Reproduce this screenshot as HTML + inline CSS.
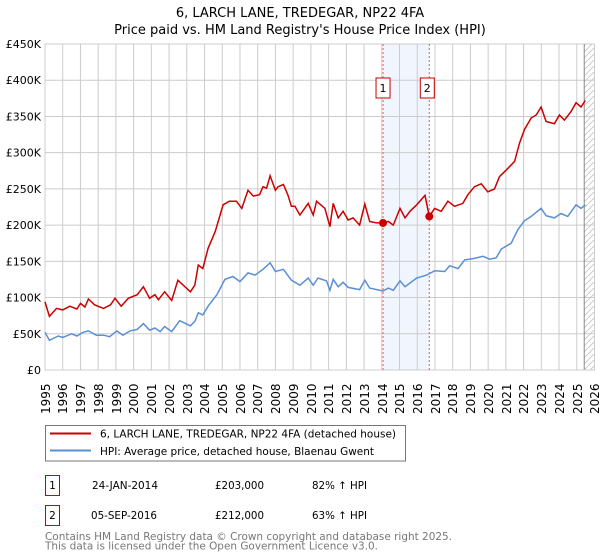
<!DOCTYPE html>
<html><head><meta charset="utf-8"><style>
body{margin:0;background:#fff;font-family:"DejaVu Sans","Liberation Sans",sans-serif;position:relative;width:600px;height:560px;overflow:hidden}
svg{position:absolute;left:0;top:0}
svg text{font-family:"DejaVu Sans","Liberation Sans",sans-serif}
.xl{position:absolute;top:383px;width:14px;height:31px;font-size:12px;line-height:14px;writing-mode:vertical-rl;transform:rotate(180deg);white-space:nowrap;color:#000;text-align:left}
</style></head><body>
<svg id="c" width="600" height="560" viewBox="0 0 600 560" xmlns="http://www.w3.org/2000/svg">
<defs><pattern id="hatch" width="6" height="6" patternUnits="userSpaceOnUse"><line x1="0" y1="6" x2="6" y2="0" stroke="#ccc" stroke-width="1"/></pattern></defs>
<text x="300" y="17" text-anchor="middle" font-size="13">6, LARCH LANE, TREDEGAR, NP22 4FA</text>
<text x="300" y="34" text-anchor="middle" font-size="13">Price paid vs. HM Land Registry's House Price Index (HPI)</text>
<g id="grid"></g><g id="marks"></g>
<g>
<rect x="45.5" y="425.5" width="360" height="35.5" fill="#fff" stroke="#777"/>
<line x1="50" y1="433.5" x2="91" y2="433.5" stroke="#cc0000" stroke-width="2"/>
<text x="100" y="437.5" font-size="10.5" textLength="296" lengthAdjust="spacingAndGlyphs">6, LARCH LANE, TREDEGAR, NP22 4FA (detached house)</text>
<line x1="50" y1="450.5" x2="91" y2="450.5" stroke="#5b8fd4" stroke-width="2"/>
<text x="100" y="455" font-size="10.5" textLength="274" lengthAdjust="spacingAndGlyphs">HPI: Average price, detached house, Blaenau Gwent</text>
</g>
<g font-size="10.5">
<rect x="45.5" y="475.5" width="14" height="20" fill="#fff" stroke="#cc0000"/><text x="52.5" y="489" text-anchor="middle">1</text>
<text x="92" y="489" textLength="66" lengthAdjust="spacingAndGlyphs">24-JAN-2014</text><text x="215" y="489" textLength="49" lengthAdjust="spacingAndGlyphs">£203,000</text><text x="312" y="489" textLength="55" lengthAdjust="spacingAndGlyphs">82% ↑ HPI</text>
<rect x="45.5" y="505.5" width="14" height="20" fill="#fff" stroke="#cc0000"/><text x="52.5" y="519" text-anchor="middle">2</text>
<text x="91" y="519" textLength="66" lengthAdjust="spacingAndGlyphs">05-SEP-2016</text><text x="215" y="519" textLength="49" lengthAdjust="spacingAndGlyphs">£212,000</text><text x="312" y="519" textLength="55" lengthAdjust="spacingAndGlyphs">63% ↑ HPI</text>
</g>
<g font-size="10.5" fill="#777">
<text x="45" y="540" textLength="407" lengthAdjust="spacingAndGlyphs">Contains HM Land Registry data © Crown copyright and database right 2025.</text>
<text x="45" y="549.5" textLength="333" lengthAdjust="spacingAndGlyphs">This data is licensed under the Open Government Licence v3.0.</text>
</g>
</svg>
<div id="xlabels"></div>
<script>
const yTicks=[0,50,100,150,200,250,300,350,400,450];
const yTickLabels=["£0","£50K","£100K","£150K","£200K","£250K","£300K","£350K","£400K","£450K"];
const xYears=[1995,1996,1997,1998,1999,2000,2001,2002,2003,2004,2005,2006,2007,2008,2009,2010,2011,2012,2013,2014,2015,2016,2017,2018,2019,2020,2021,2022,2023,2024,2025,2026];
const saleDates=[2014.07,2016.68];
const saleValues=[203,212];
const saleLabels=["1","2"];
const redT=[1995.0,1995.25,1995.65,1996.0,1996.4,1996.8,1997.0,1997.25,1997.45,1997.8,1998.3,1998.7,1998.95,1999.3,1999.7,2000.2,2000.55,2000.9,2001.2,2001.4,2001.75,2002.15,2002.5,2003.2,2003.45,2003.65,2003.9,2004.2,2004.6,2005.05,2005.4,2005.8,2006.1,2006.45,2006.75,2007.1,2007.3,2007.5,2007.7,2008.0,2008.15,2008.45,2008.7,2008.9,2009.1,2009.38,2009.85,2010.13,2010.32,2010.79,2011.07,2011.26,2011.54,2011.82,2012.1,2012.38,2012.75,2013.04,2013.32,2013.7,2014.07,2014.37,2014.65,2015.03,2015.31,2015.59,2015.97,2016.44,2016.68,2016.98,2017.35,2017.73,2018.1,2018.57,2018.86,2019.23,2019.61,2019.98,2020.36,2020.64,2021.02,2021.49,2021.77,2022.05,2022.43,2022.71,2022.99,2023.27,2023.74,2024.02,2024.3,2024.68,2024.96,2025.24,2025.48];
const redV=[94,74,85,83,88,84,92,87,98,90,85,90,99,88,99,104,115,99,104,97,108,96,124,108,117,145,140,168,191,228,233,233,223,248,240,242,253,251,268,248,253,256,242,226,226,214,230,214,233,223,198,230,210,219,207,210,200,229,205,203,203,205,200,223,210,219,228,241,212,223,219,233,226,230,242,253,257,246,250,267,276,288,313,332,348,352,363,343,340,352,345,357,369,363,372];
const hpiT=[1995.0,1995.25,1995.75,1996.0,1996.5,1996.8,1997.15,1997.45,1997.9,1998.3,1998.65,1999.05,1999.4,1999.8,2000.2,2000.55,2000.9,2001.2,2001.5,2001.75,2002.15,2002.6,2003.2,2003.45,2003.65,2003.9,2004.2,2004.7,2005.15,2005.6,2006.0,2006.45,2006.85,2007.3,2007.7,2008.0,2008.45,2008.9,2009.38,2009.85,2010.13,2010.4,2010.88,2011.07,2011.26,2011.54,2011.82,2012.1,2012.75,2013.04,2013.32,2014.07,2014.37,2014.65,2015.03,2015.31,2015.97,2016.53,2016.98,2017.55,2017.83,2018.3,2018.68,2019.23,2019.71,2020.08,2020.46,2020.74,2021.3,2021.68,2022.05,2022.43,2022.99,2023.27,2023.74,2024.11,2024.49,2024.96,2025.24,2025.48];
const hpiV=[52,41,47,45,50,47,52,54,48,48,46,54,48,54,56,64,55,58,53,60,53,68,61,67,79,76,88,104,125,129,122,134,131,139,148,136,139,124,117,127,117,127,123,110,125,115,121,114,111,124,113,109,113,110,123,115,127,131,137,136,144,140,152,154,157,153,155,167,175,194,206,212,223,213,210,216,212,228,223,228];
const X0=45,X1=594.5,Y0=370,Y1=44,NS="http://www.w3.org/2000/svg";
const xs=t=>X0+(t-1995)/31*(X1-X0);
const ys=v=>Y0-v/450*(Y0-Y1);
function mk(tag,at,parent){const e=document.createElementNS(NS,tag);for(const k in at)e.setAttribute(k,at[k]);parent.appendChild(e);return e;}
const g=document.getElementById('grid'),m=document.getElementById('marks'),xl=document.getElementById('xlabels');
const shade=mk('rect',{x:xs(saleDates[0]),y:Y1,width:xs(saleDates[1])-xs(saleDates[0]),height:Y0-Y1,fill:'#eef3fc',opacity:0.8},g);


yTicks.forEach((v,i)=>{
 const l=mk('line',{x1:X0,x2:X1,y1:ys(v),y2:ys(v),stroke:'#ccc'},g);
 
 
 const t=mk('text',{x:41,y:ys(v)+4,'text-anchor':'end','font-size':11},g);t.textContent=yTickLabels[i];
 
 
});
xYears.forEach(yr=>{
 const l=mk('line',{x1:xs(yr),x2:xs(yr),y1:Y1,y2:Y0,stroke:'#ccc'},g);
 
 
 const d=document.createElement('div');
 d.className='xl';
 d.style.left=(xs(yr)-6.3).toFixed(1)+'px';
 d.textContent=yr;
 
 
 xl.appendChild(d);
});
const hx=xs(2025.42);
const h=mk('rect',{x:hx,y:Y1,width:X1-hx,height:Y0-Y1,fill:'url(#hatch)'},g);


mk('line',{x1:hx,x2:hx,y1:Y1,y2:Y0,stroke:'#888'},g);
const bd=mk('rect',{x:X0,y:Y1,width:X1-X0,height:Y0-Y1,fill:'none',stroke:'#ccc'},g);


saleDates.forEach((d,i)=>{
 const l=mk('line',{x1:xs(d),x2:xs(d),y1:Y1,y2:Y0,stroke:'#e06060','stroke-dasharray':'2,2'},m);
 
 
 const b=mk('rect',{x:xs(d)-7-(i?2:0),y:78,width:14,height:20,fill:'#fff',stroke:'#cc0000'},m);
 
 
 const t=mk('text',{x:xs(d)-(i?2:0),y:92,'text-anchor':'middle','font-size':11},m);t.textContent=saleLabels[i];
 
 
});
const path=(T,V)=>T.map((t,i)=>(i?'L':'M')+xs(t).toFixed(1)+','+ys(V[i]).toFixed(1)).join('');
const hp=mk('path',{d:path(hpiT,hpiV),fill:'none',stroke:'#5b8fd4','stroke-width':1.5},m);


const rp=mk('path',{d:path(redT,redV),fill:'none',stroke:'#cc0000','stroke-width':1.5},m);


saleDates.forEach((d,i)=>{
 const c=mk('circle',{cx:xs(d),cy:ys(saleValues[i]),r:4,fill:'#cc0000'},m);
 
 
});
</script>
</body></html>
